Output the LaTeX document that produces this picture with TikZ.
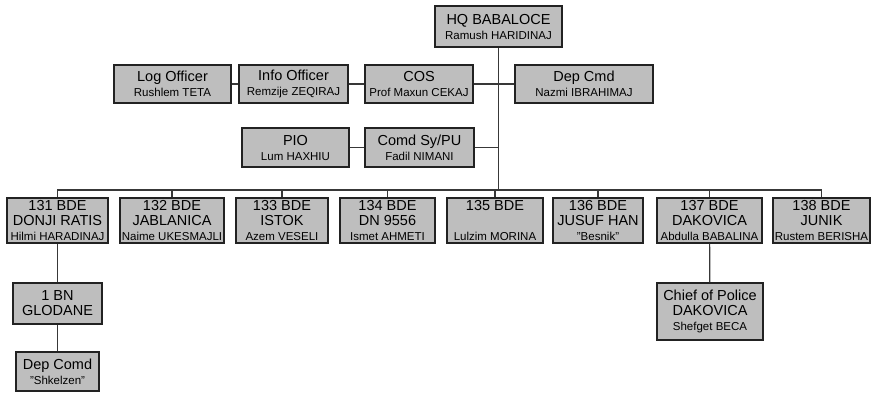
\documentclass[tikz,border=0pt]{standalone}
\usepackage{fontspec}
\setmainfont{Liberation Sans}
\usepackage{xcolor}
\usepackage{tikz}
\usetikzlibrary{positioning}

\definecolor{boxfill}{HTML}{BEBEBE}
\definecolor{boxline}{HTML}{222222}
\newcommand{\persname}[1]{{\fontsize{11.5}{13}\selectfont #1}}

\begin{document}
\begin{tikzpicture}[
  x=1pt, y=-1pt,
  unit/.style={draw=boxline, fill=boxfill, line width=1.3pt, align=center,
    inner sep=0pt, font=\fontsize{14.5}{15}\selectfont},
  link/.style={draw=boxline!90, line width=1.2pt}
]
  \useasboundingbox (0,0) rectangle (871,392);

  % headquarters and staff
  \node[unit, minimum width=127, minimum height=41] (hq) at (498.5,26.5) {HQ BABALOCE\\\persname{Ramush HARIDINAJ}};
  \node[unit, minimum width=117, minimum height=38] (logoff) at (172.5,84) {Log Officer\\\persname{Rushlem TETA}};
  \node[unit, minimum width=109, minimum height=38] (infooff) at (293.5,84) {Info Officer\\\persname{Remzije ZEQIRAJ}};
  \node[unit, minimum width=108, minimum height=38] (cos) at (419,84) {COS\\\persname{Prof Maxun CEKAJ}};
  \node[unit, minimum width=138, minimum height=38] (depcmd) at (584,84) {Dep Cmd\\\persname{Nazmi IBRAHIMAJ}};
  \node[unit, minimum width=107, minimum height=39] (pio) at (295.5,147.5) {PIO\\\persname{Lum HAXHIU}};
  \node[unit, minimum width=109, minimum height=39] (comdsy) at (419.5,147.5) {Comd Sy/PU\\\persname{Fadil NIMANI}};

  % brigades
  \node[unit, minimum width=101, minimum height=45] (b131) at (57.5,220.5) {131 BDE\\DONJI RATIS\\\persname{Hilmi HARADINAJ}};
  \node[unit, minimum width=104, minimum height=45] (b132) at (172,220.5) {132 BDE\\JABLANICA\\\persname{Naime UKESMAJLI}};
  \node[unit, minimum width=92, minimum height=45] (b133) at (282,220.5) {133 BDE\\ISTOK\\\persname{Azem VESELI}};
  \node[unit, minimum width=95, minimum height=45] (b134) at (387.5,220.5) {134 BDE\\DN 9556\\\persname{Ismet AHMETI}};
  \node[unit, minimum width=96, minimum height=45] (b135) at (495,220.5) {135 BDE\\[15pt]\persname{Lulzim MORINA}};
  \node[unit, minimum width=90, minimum height=45] (b136) at (598,220.5) {136 BDE\\JUSUF HAN\\\persname{"Besnik"}};
  \node[unit, minimum width=105, minimum height=45] (b137) at (709.5,220.5) {137 BDE\\DAKOVICA\\\persname{Abdulla BABALINA}};
  \node[unit, minimum width=97, minimum height=45] (b138) at (821.5,220.5) {138 BDE\\JUNIK\\\persname{Rustem BERISHA}};

  % subordinate units
  \node[unit, minimum width=89, minimum height=41] (bn1) at (57.5,303.5) {1 BN\\GLODANE};
  \node[unit, minimum width=83, minimum height=39] (depcomd) at (57.5,371.5) {Dep Comd\\\persname{"Shkelzen"}};
  \node[unit, minimum width=106, minimum height=57] (chief) at (710,311.5) {Chief of Police\\DAKOVICA\\\persname{Shefget BECA}};

  \coordinate (bus) at (498,190);

  \draw[link] (hq) -- (hq |- bus);
  \draw[link] (logoff) -- (infooff);
  \draw[link] (infooff) -- (cos);
  \draw[link] (cos) -- (depcmd);
  \draw[link] (pio) -- (comdsy);
  \draw[link] (comdsy.east) -- (comdsy -| hq);
  \draw[link] (b131.north) |- (bus) -| (b138.north);
  \foreach \b in {b132,b133,b134,b135,b136,b137}
    \draw[link] (\b.north) -- (\b.north |- bus);
  \draw[link] (b131) -- (bn1);
  \draw[link] (bn1) -- (depcomd);
  \draw[link] (b137) -- (chief);
\end{tikzpicture}
\end{document}
